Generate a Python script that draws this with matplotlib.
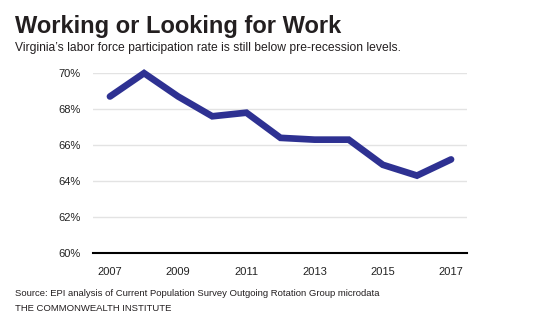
import matplotlib
matplotlib.use('Agg')
import matplotlib.pyplot as plt

plt.rcParams['font.family'] = ['Liberation Sans', 'DejaVu Sans']

# Dữ liệu: tỷ lệ tham gia lực lượng lao động Virginia
years = [2007, 2008, 2009, 2010, 2011, 2012, 2013, 2014, 2015, 2016, 2017]
rates = [68.7, 70.0, 68.7, 67.6, 67.8, 66.4, 66.3, 66.3, 64.9, 64.3, 65.2]
y_ticks = [60, 62, 64, 66, 68, 70]
x_ticks = [2007, 2009, 2011, 2013, 2015, 2017]

fig = plt.figure(figsize=(5.4, 3.28), dpi=100)
ax = fig.add_axes([0.172, 0.229, 0.693, 0.548])

ax.plot(years, rates, color='#2e3192', linewidth=4.8, solid_capstyle='round',
        solid_joinstyle='miter', clip_on=False, zorder=3)

ax.set_xlim(2006.5, 2017.47)
ax.set_ylim(60, 70)
ax.set_yticks(y_ticks)
ax.set_yticklabels([f'{v}%' for v in y_ticks])
ax.set_xticks(x_ticks)
ax.grid(axis='y', color='#e3e3e3', linewidth=1)
ax.set_axisbelow(True)
for side in ['top', 'right', 'left']:
    ax.spines[side].set_visible(False)
ax.spines['bottom'].set_color('black')
ax.spines['bottom'].set_linewidth(1.5)
ax.tick_params(axis='both', length=0, labelsize=8, colors='#222222')
ax.tick_params(axis='y', pad=9)
ax.tick_params(axis='x', pad=10)

fig.text(0.028, 0.899, 'Working or Looking for Work', fontsize=17,
         fontweight='bold', color='#231f20', va='baseline')
fig.text(0.028, 0.843, "Virginia\u2019s labor force participation rate is still below pre-recession levels.",
         fontsize=8.7, color='#231f20', va='baseline')
fig.text(0.028, 0.099, 'Source: EPI analysis of Current Population Survey Outgoing Rotation Group microdata',
         fontsize=6.8, color='#231f20', va='baseline')
fig.text(0.028, 0.051, 'THE COMMONWEALTH INSTITUTE', fontsize=6.8, color='#231f20',
         va='baseline')

fig.savefig('out.png', dpi=100)
